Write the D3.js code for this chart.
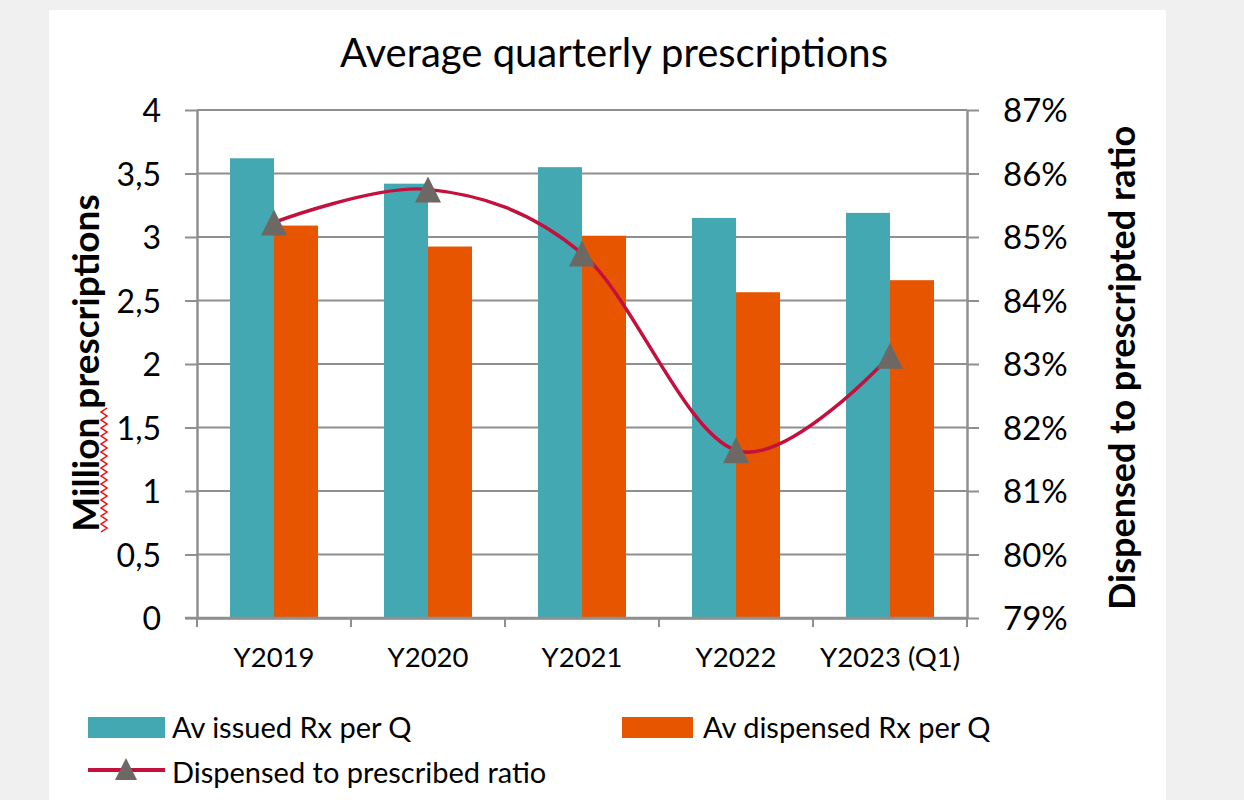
<!DOCTYPE html>
<html>
<head>
<meta charset="utf-8">
<script src="https://cdn.jsdelivr.net/npm/d3@7"></script>
<style>
  html, body { margin: 0; padding: 0; background: #f0f0f0; }
  svg { display: block; }
  text { font-family: Lato, "Open Sans", sans-serif; fill: #000; }
</style>
</head>
<body>
<svg id="chart" width="1244" height="800"></svg>
<script>
// ---- Data ----
const categories = ["Y2019", "Y2020", "Y2021", "Y2022", "Y2023 (Q1)"];
const issued = [3.62, 3.42, 3.55, 3.15, 3.19];      // Av issued Rx per Q (million)
const dispensed = [3.09, 2.925, 3.01, 2.565, 2.66]; // Av dispensed Rx per Q (million)
const ratio = [0.8523, 0.8575, 0.8474, 0.8164, 0.8313]; // Dispensed to prescribed ratio
const leftTicks = [0, 0.5, 1, 1.5, 2, 2.5, 3, 3.5, 4];
const rightTicks = [0.79, 0.80, 0.81, 0.82, 0.83, 0.84, 0.85, 0.86, 0.87];
const seriesNames = ["Av issued Rx per Q", "Av dispensed Rx per Q", "Dispensed to prescribed ratio"];
const titleText = "Average quarterly prescriptions";
const leftTitle = "Million prescriptions";
const rightTitle = "Dispensed to prescripted ratio";

// ---- Styles ----
const C_TEAL = "#44a8b3", C_ORANGE = "#e85500", C_LINE = "#c4103c", C_MARK = "#6d6863", C_GRID = "#8f8f8f";

const svg = d3.select("#chart");
// white panel
svg.append("rect").attr("x", 49).attr("y", 10).attr("width", 1117).attr("height", 800).attr("fill", "#fff");

const plot = { left: 197, right: 967, top: 110, bottom: 618 };

const x = d3.scaleBand().domain(categories).range([plot.left, plot.right]).paddingInner(0).paddingOuter(0);
const x1 = d3.scaleBand().domain(["issued", "dispensed"]).range([0, x.bandwidth()]).paddingInner(0).paddingOuter(0.75);
const yL = d3.scaleLinear().domain([0, 4]).range([plot.bottom, plot.top]);
const yR = d3.scaleLinear().domain([0.79, 0.87]).range([plot.bottom, plot.top]);

// Title
svg.append("text").attr("x", 614).attr("y", 67).attr("text-anchor", "middle")
  .style("font-size", "40px").text(titleText);

// Gridlines
svg.append("g").selectAll("line").data(leftTicks.filter(d => d > 0)).join("line")
  .attr("x1", plot.left).attr("x2", plot.right)
  .attr("y1", d => yL(d)).attr("y2", d => yL(d))
  .attr("stroke", C_GRID).attr("stroke-width", 2);

// Bars
const barData = [];
categories.forEach((c, i) => {
  barData.push({ cat: c, key: "issued", v: issued[i], color: C_TEAL });
  barData.push({ cat: c, key: "dispensed", v: dispensed[i], color: C_ORANGE });
});
svg.append("g").selectAll("rect").data(barData).join("rect")
  .attr("x", d => x(d.cat) + x1(d.key))
  .attr("width", x1.bandwidth())
  .attr("y", d => yL(d.v))
  .attr("height", d => yL(0) - yL(d.v))
  .attr("fill", d => d.color);

// Left axis
const fmtComma = d => d3.format("")(d).replace(".", ",");
const axL = svg.append("g").attr("transform", `translate(${plot.left},0)`)
  .call(d3.axisLeft(yL).tickValues(leftTicks).tickSize(12).tickPadding(24).tickSizeOuter(0).tickFormat(fmtComma));
axL.selectAll("text").style("font-size", "32px").attr("dy", "0.36em");

// Right axis
const axR = svg.append("g").attr("transform", `translate(${plot.right},0)`)
  .call(d3.axisRight(yR).tickValues(rightTicks).tickSize(12).tickPadding(24).tickSizeOuter(0).tickFormat(d3.format(".0%")));
axR.selectAll("text").style("font-size", "33px").attr("dy", "0.36em");

// Bottom axis
const axB = svg.append("g").attr("transform", `translate(0,${plot.bottom})`)
  .call(d3.axisBottom(x).tickSize(0).tickPadding(29).tickSizeOuter(0));
axB.selectAll("text").style("font-size", "27.5px");
// category boundary ticks
svg.append("g").selectAll("line").data(categories.concat(["__end"])).join("line")
  .attr("x1", d => d === "__end" ? plot.right : x(d))
  .attr("x2", d => d === "__end" ? plot.right : x(d))
  .attr("y1", plot.bottom).attr("y2", plot.bottom + 9)
  .attr("stroke", C_GRID).attr("stroke-width", 2);
// extend baseline to left tick
svg.append("line").attr("x1", plot.left - 12).attr("x2", plot.right)
  .attr("y1", plot.bottom).attr("y2", plot.bottom).attr("stroke", C_GRID).attr("stroke-width", 2.5);

[axL, axR, axB].forEach(a => {
  a.select(".domain").attr("stroke", C_GRID).attr("stroke-width", 2.5);
  a.selectAll(".tick line").attr("stroke", C_GRID).attr("stroke-width", 2);
  a.selectAll("text").style("font-family", "Lato, sans-serif").attr("fill", "#000");
});

// Ratio line
const pts = categories.map((c, i) => [x(c) + x.bandwidth() / 2, yR(ratio[i])]);
svg.append("path").datum(pts)
  .attr("d", d3.line().curve(d3.curveCardinal.tension(0)))
  .attr("fill", "none").attr("stroke", C_LINE).attr("stroke-width", 3.5);
const tri = (cx, cy, s) => `M${cx},${cy - s}L${cx + s},${cy + s}L${cx - s},${cy + s}Z`;
svg.append("g").selectAll("path").data(pts).join("path")
  .attr("d", d => tri(d[0], d[1], 13)).attr("fill", C_MARK);

// Axis titles
svg.append("text").attr("transform", `translate(99,363) rotate(-90)`).attr("text-anchor", "middle")
  .style("font-size", "37px").style("font-weight", "bold").text(leftTitle);
svg.append("text").attr("transform", `translate(1135,368) rotate(-90)`).attr("text-anchor", "middle")
  .style("font-size", "36px").style("font-weight", "bold").text(rightTitle);

// Spell-check squiggle under "Million"
const sq = [];
for (let yy = 532, k = 0; yy >= 406; yy -= 4, k++) sq.push([k % 2 ? 107 : 101, yy]);
svg.append("path").attr("d", d3.line()(sq)).attr("fill", "none").attr("stroke", "#f00").attr("stroke-width", 1.5);

// Legend
const lg = svg.append("g");
lg.append("rect").attr("x", 88).attr("y", 717).attr("width", 77).attr("height", 21).attr("fill", C_TEAL);
lg.append("text").attr("x", 172).attr("y", 738).style("font-size", "29px").text(seriesNames[0]);
lg.append("rect").attr("x", 622).attr("y", 717).attr("width", 71).attr("height", 21).attr("fill", C_ORANGE);
lg.append("text").attr("x", 703).attr("y", 738).style("font-size", "29px").text(seriesNames[1]);
lg.append("line").attr("x1", 88).attr("x2", 165).attr("y1", 770).attr("y2", 770).attr("stroke", C_LINE).attr("stroke-width", 4);
lg.append("path").attr("d", tri(126, 769, 11)).attr("fill", C_MARK);
lg.append("text").attr("x", 172).attr("y", 783).style("font-size", "29px").text(seriesNames[2]);
</script>
</body>
</html>
